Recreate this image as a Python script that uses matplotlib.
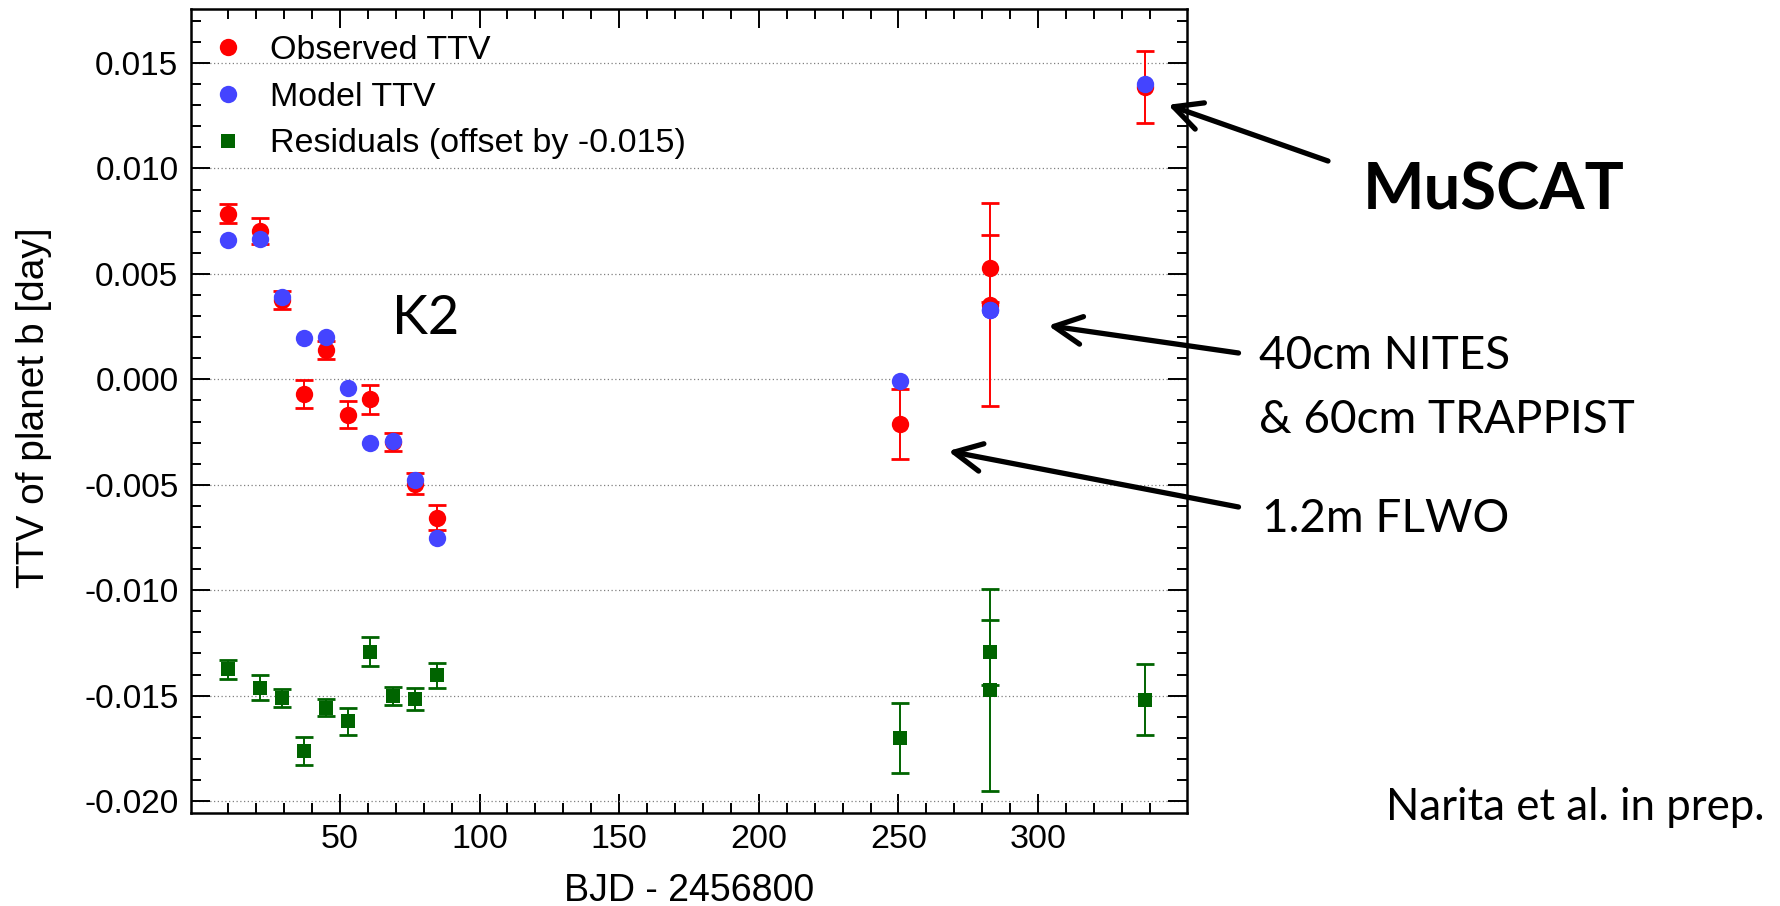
import matplotlib
matplotlib.use("Agg")
import matplotlib.pyplot as plt
from matplotlib.ticker import MultipleLocator, FixedLocator, FormatStrFormatter

plt.rcParams['font.family'] = ['Liberation Sans', 'DejaVu Sans']
plt.rcParams['axes.unicode_minus'] = False

# TTV data
obs_x = [10.0, 21.3, 29.3, 37.1, 45.0, 53.0, 60.9, 68.9, 76.8, 84.6, 250.6, 282.6, 282.6, 338.2]
obs_y = [0.00785, 0.00703, 0.00376, -0.00069, 0.00139, -0.00168, -0.00095, -0.00297,
         -0.00494, -0.00656, -0.00212, 0.00527, 0.00354, 0.01387]
obs_err = [0.00045, 0.00060, 0.00043, 0.00066, 0.00042, 0.00064, 0.00068, 0.00043,
           0.00052, 0.00058, 0.00167, 0.00158, 0.00480, 0.00170]
model_y = [0.00663, 0.00667, 0.00391, 0.00198, 0.00202, -0.00043, -0.00300, -0.00294,
           -0.00475, -0.00754, -0.00010, 0.00330, 0.00330, 0.01403]
resid_y = [-0.01376, -0.01463, -0.01511, -0.01762, -0.01557, -0.01622, -0.01292, -0.01502,
           -0.01518, -0.01403, -0.01702, -0.01295, -0.01473, -0.01519]
resid_err = [0.00044, 0.00060, 0.00043, 0.00066, 0.00040, 0.00065, 0.00068, 0.00042,
             0.00052, 0.00060, 0.00165, 0.00154, 0.00478, 0.00167]

red = "#FF0000"
blue = "#4444FF"
green = "#006400"

W, H = 1781, 906
fig = plt.figure(figsize=(W / 100, H / 100), dpi=100)
ax = fig.add_axes([191 / W, 1 - 813.3 / H, 995.7 / W, 804 / H])

# observed with error bars, then model on top
ax.errorbar(obs_x, obs_y, yerr=obs_err, fmt='none', ecolor=red, elinewidth=1.4,
            capsize=6.5, capthick=2, zorder=3)
obs_line, = ax.plot(obs_x, obs_y, 'o', color=red, markersize=12.5, markeredgewidth=0,
                    zorder=4, label="Observed TTV")
model_line, = ax.plot(obs_x, model_y, 'o', color=blue, markersize=12.5, markeredgewidth=0,
                      zorder=5, label="Model TTV")
ax.errorbar(obs_x, resid_y, yerr=resid_err, fmt='none', ecolor=green, elinewidth=1.4,
            capsize=6.5, capthick=2, zorder=3)
resid_line, = ax.plot(obs_x, resid_y, 's', color=green, markersize=9.5, markeredgewidth=0,
                      zorder=4, label="Residuals (offset by -0.015)")

ax.set_xlim(-3.3, 353.2)
ax.set_ylim(-0.02058, 0.01755)

ax.xaxis.set_major_locator(FixedLocator([50, 100, 150, 200, 250, 300]))
ax.xaxis.set_minor_locator(FixedLocator([v for v in range(10, 350, 10) if v % 50 != 0]))
ax.yaxis.set_major_locator(MultipleLocator(0.005))
ax.yaxis.set_minor_locator(MultipleLocator(0.001))
ax.yaxis.set_major_formatter(FormatStrFormatter('%.3f'))

ax.tick_params(which='both', direction='in', top=True, right=True, width=1.4, color='black')
ax.tick_params(which='major', length=14)
ax.tick_params(which='minor', length=7.5)
ax.tick_params(axis='y', labelsize=24, pad=9)
ax.tick_params(axis='x', labelsize=24.5, pad=8)
for s in ax.spines.values():
    s.set_linewidth(1.8)

ax.set_axisbelow(True)
ax.yaxis.grid(True, which='major', linestyle=(0, (1, 2)), linewidth=0.9, color='0.5')

ax.set_xlabel("BJD - 2456800", fontsize=27)
ax.xaxis.set_label_coords(0.5, -0.0745)
ax.set_ylabel("TTV of planet b [day]", fontsize=28)
ax.yaxis.set_label_coords(-0.1396, 0.504)

ax.legend(handles=[obs_line, model_line, resid_line], loc='upper left',
          bbox_to_anchor=(0.0198, 0.9678), frameon=False, fontsize=24.5, numpoints=1,
          handlelength=1.0, handletextpad=0.74, borderpad=0, borderaxespad=0,
          labelspacing=0.46)

# annotations in slide font
ann_font = ['Lato', 'DejaVu Sans']


def ftext(x, y, s, **kw):
    fig.text(x / W, 1 - y / H, s, ha='left', va='baseline', family=ann_font, **kw)


ftext(392, 334, "K2", fontsize=39)
ftext(1363, 210, "MuSCAT", fontsize=47, fontweight='bold')
ftext(1259, 369.3, "40cm NITES", fontsize=33)
ftext(1259, 433.3, "& 60cm TRAPPIST", fontsize=33)
ftext(1262, 531.7, "1.2m FLWO", fontsize=33)
ftext(1386, 820, "Narita et al. in prep.", fontsize=31.5)

arrow = dict(arrowstyle='->, head_length=1.0, head_width=0.5', color='black', lw=3.8,
             mutation_scale=20, shrinkA=0, shrinkB=0)
ax.annotate('', xy=(346.5, 0.01302), xycoords='data',
            xytext=(1328 / W, 1 - 161 / H), textcoords='figure fraction',
            arrowprops=arrow, annotation_clip=False)
ax.annotate('', xy=(303.6, 0.00255), xycoords='data',
            xytext=(1238.5 / W, 1 - 353 / H), textcoords='figure fraction',
            arrowprops=arrow, annotation_clip=False)
ax.annotate('', xy=(267.8, -0.0034), xycoords='data',
            xytext=(1238.5 / W, 1 - 507 / H), textcoords='figure fraction',
            arrowprops=arrow, annotation_clip=False)

fig.savefig("out.png", dpi=100)
